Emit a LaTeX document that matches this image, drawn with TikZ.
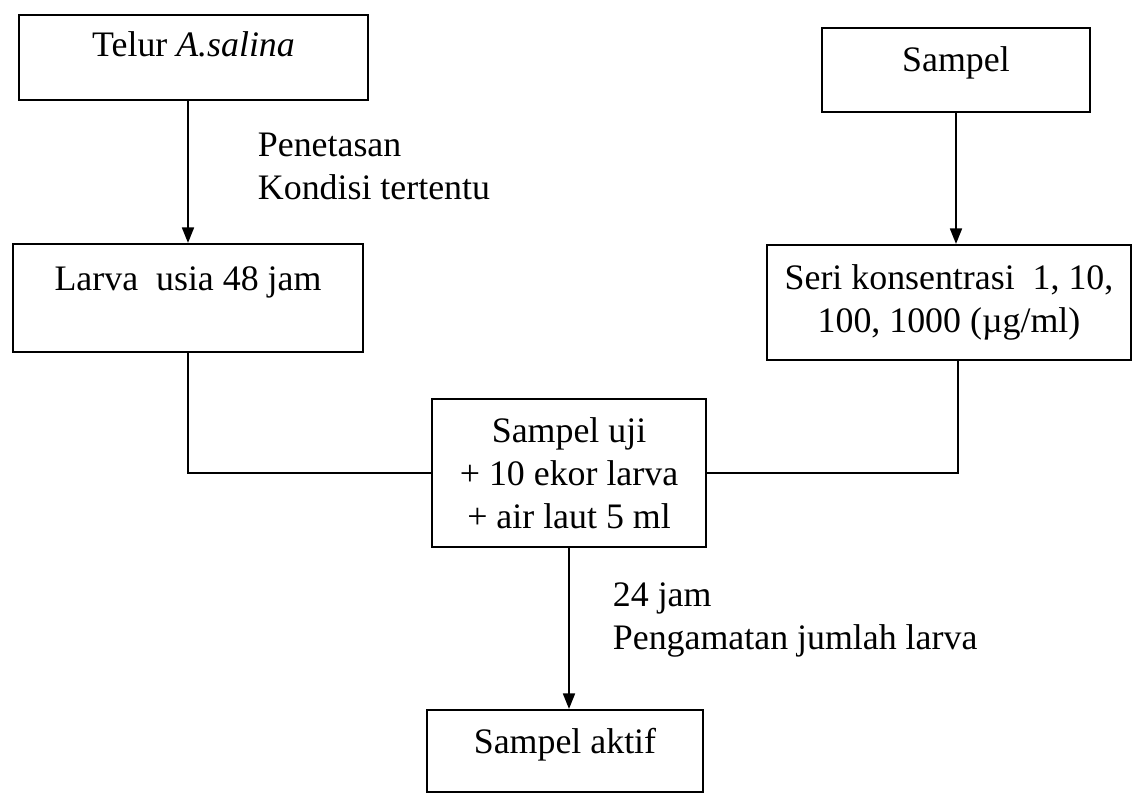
\documentclass[tikz,border=0pt]{standalone}
\usepackage{fontspec}
\setmainfont{Liberation Serif}
\usetikzlibrary{arrows.meta}

\begin{document}
\begin{tikzpicture}[
    x=0.025cm, y=-0.025cm,
    every node/.style={font=\fontsize{25.5}{30.6}\selectfont},
    box/.style={draw, line width=1.5pt, inner sep=0pt},
    raised/.style={text height=0.67cm, text depth=#1},
    note/.style={anchor=west, align=left, inner sep=0pt},
    arrow/.style={-{Triangle[length=11pt, width=8.5pt]}, line width=1.3pt},
    link/.style={line width=1.3pt},
]
\useasboundingbox (0,0) rectangle (1133,795);

% nodes (two inputs on top, merged in the middle)
\node[box, raised=0.7cm, minimum width=8.725cm, minimum height=2.125cm]
    (telur) at (193.5,57.5) {Telur \textit{A.salina}};
\node[box, raised=0.575cm, minimum width=6.7cm, minimum height=2.1cm]
    (sampel) at (956,70) {Sampel};
\node[box, raised=1.025cm, minimum width=8.75cm, minimum height=2.7cm]
    (larva) at (188,298) {Larva \ usia 48 jam};
\node[box, align=center, minimum width=9.1cm, minimum height=2.875cm]
    (seri) at (949,302.5) {Seri konsentrasi \ 1, 10,\\100, 1000 (µg/ml)};
\node[box, align=center, minimum width=6.85cm, minimum height=3.7cm]
    (uji) at (569,473) {Sampel uji\\+ 10 ekor larva\\+ air laut 5 ml};
\node[box, raised=0.525cm, minimum width=6.9cm, minimum height=2.05cm]
    (aktif) at (565,751) {Sampel aktif};

% arrows
\draw[arrow] (telur.south -| larva.north) --
    node[note, pos=0.46, xshift=1.725cm] (tetas) {Penetasan\\Kondisi tertentu}
    (larva.north);
\draw[arrow] (sampel.south) -- (sampel.south |- seri.north);
\draw[arrow] (uji.south) --
    node[note, pos=0.45, xshift=1.075cm] (amati) {24 jam\\Pengamatan jumlah larva}
    (uji.south |- aktif.north);

% joining lines
\draw[link] (larva.south) |- (uji.west);
\draw[link] ([xshift=0.225cm]seri.south) |- (uji.east);

\end{tikzpicture}
\end{document}
